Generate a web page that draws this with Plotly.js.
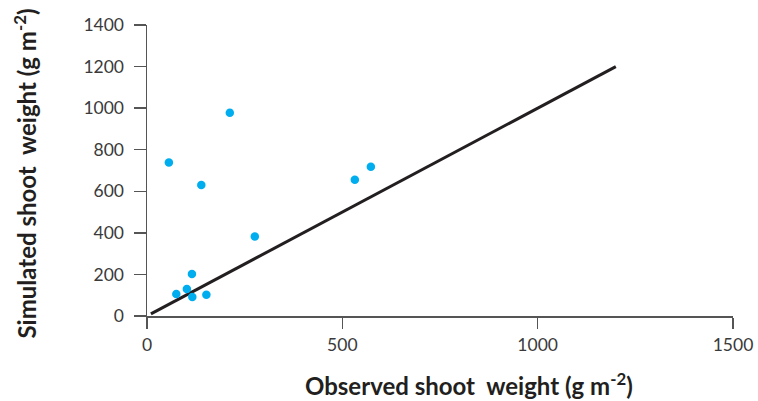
<!DOCTYPE html>
<html>
<head>
<meta charset="utf-8">
<script src="https://cdn.plot.ly/plotly-3.0.1.min.js"></script>
<style>
  html, body { margin: 0; padding: 0; background: #ffffff; }
  #chart { width: 758px; height: 401px; }
</style>
</head>
<body>
<div id="chart"></div>
<script>
// Observed vs simulated shoot weight (g m-2)
const observed  = [56, 212, 139, 276, 115, 75, 102, 116, 152, 532, 573];
const simulated = [739, 978, 630, 383, 202, 106, 130, 91, 102, 656, 718];

// 1:1 reference line
const lineX = [10, 1200];
const lineY = [10, 1200];

const xTicks = [0, 500, 1000, 1500];
const yTicks = [0, 200, 400, 600, 800, 1000, 1200, 1400];

const tickFont = { family: 'Lato, "Open Sans", sans-serif', size: 17.5, color: '#3a3a3a' };
const titleFont = { family: 'Lato, "Open Sans", sans-serif', size: 24, color: '#231f20', weight: 'bold' };

const traces = [
  {
    x: lineX, y: lineY, type: 'scatter', mode: 'lines',
    line: { color: '#231f20', width: 3 },
    hoverinfo: 'skip', cliponaxis: false
  },
  {
    x: observed, y: simulated, type: 'scatter', mode: 'markers',
    marker: { color: '#00aeef', size: 8.5 },
    cliponaxis: false
  }
];

const layout = {
  width: 758, height: 401,
  margin: { l: 147, r: 25, t: 25, b: 85 },
  paper_bgcolor: '#ffffff', plot_bgcolor: '#ffffff',
  showlegend: false,
  xaxis: {
    range: [0, 1500], tickvals: xTicks, ticktext: xTicks.map(String),
    showgrid: false, zeroline: false, showline: true,
    linecolor: '#555555', linewidth: 1.5,
    ticks: 'outside', ticklen: 11, tickwidth: 1.3, tickcolor: '#555555',
    ticklabelstandoff: 1,
    tickfont: tickFont
  },
  yaxis: {
    range: [0, 1400], tickvals: yTicks, ticktext: yTicks.map(String),
    showgrid: false, zeroline: false, showline: true,
    linecolor: '#555555', linewidth: 1.5,
    ticks: 'outside', ticklen: 12, tickwidth: 1.3, tickcolor: '#555555',
    ticklabelstandoff: 6,
    tickfont: tickFont
  },
  annotations: [
    {
      text: 'Observed shoot\u00a0 weight (g m<sup>-2</sup>)',
      xref: 'paper', yref: 'paper', x: 0.55, y: -0.235,
      xanchor: 'center', yanchor: 'middle', showarrow: false,
      font: titleFont
    },
    {
      text: 'Simulated shoot\u00a0 weight (g m<sup>-2</sup>)',
      xref: 'paper', yref: 'paper', x: -0.208, y: 0.49,
      xanchor: 'center', yanchor: 'middle', showarrow: false,
      textangle: -90, font: titleFont
    }
  ]
};

Plotly.newPlot('chart', traces, layout, { displayModeBar: false, staticPlot: true });
</script>
</body>
</html>
